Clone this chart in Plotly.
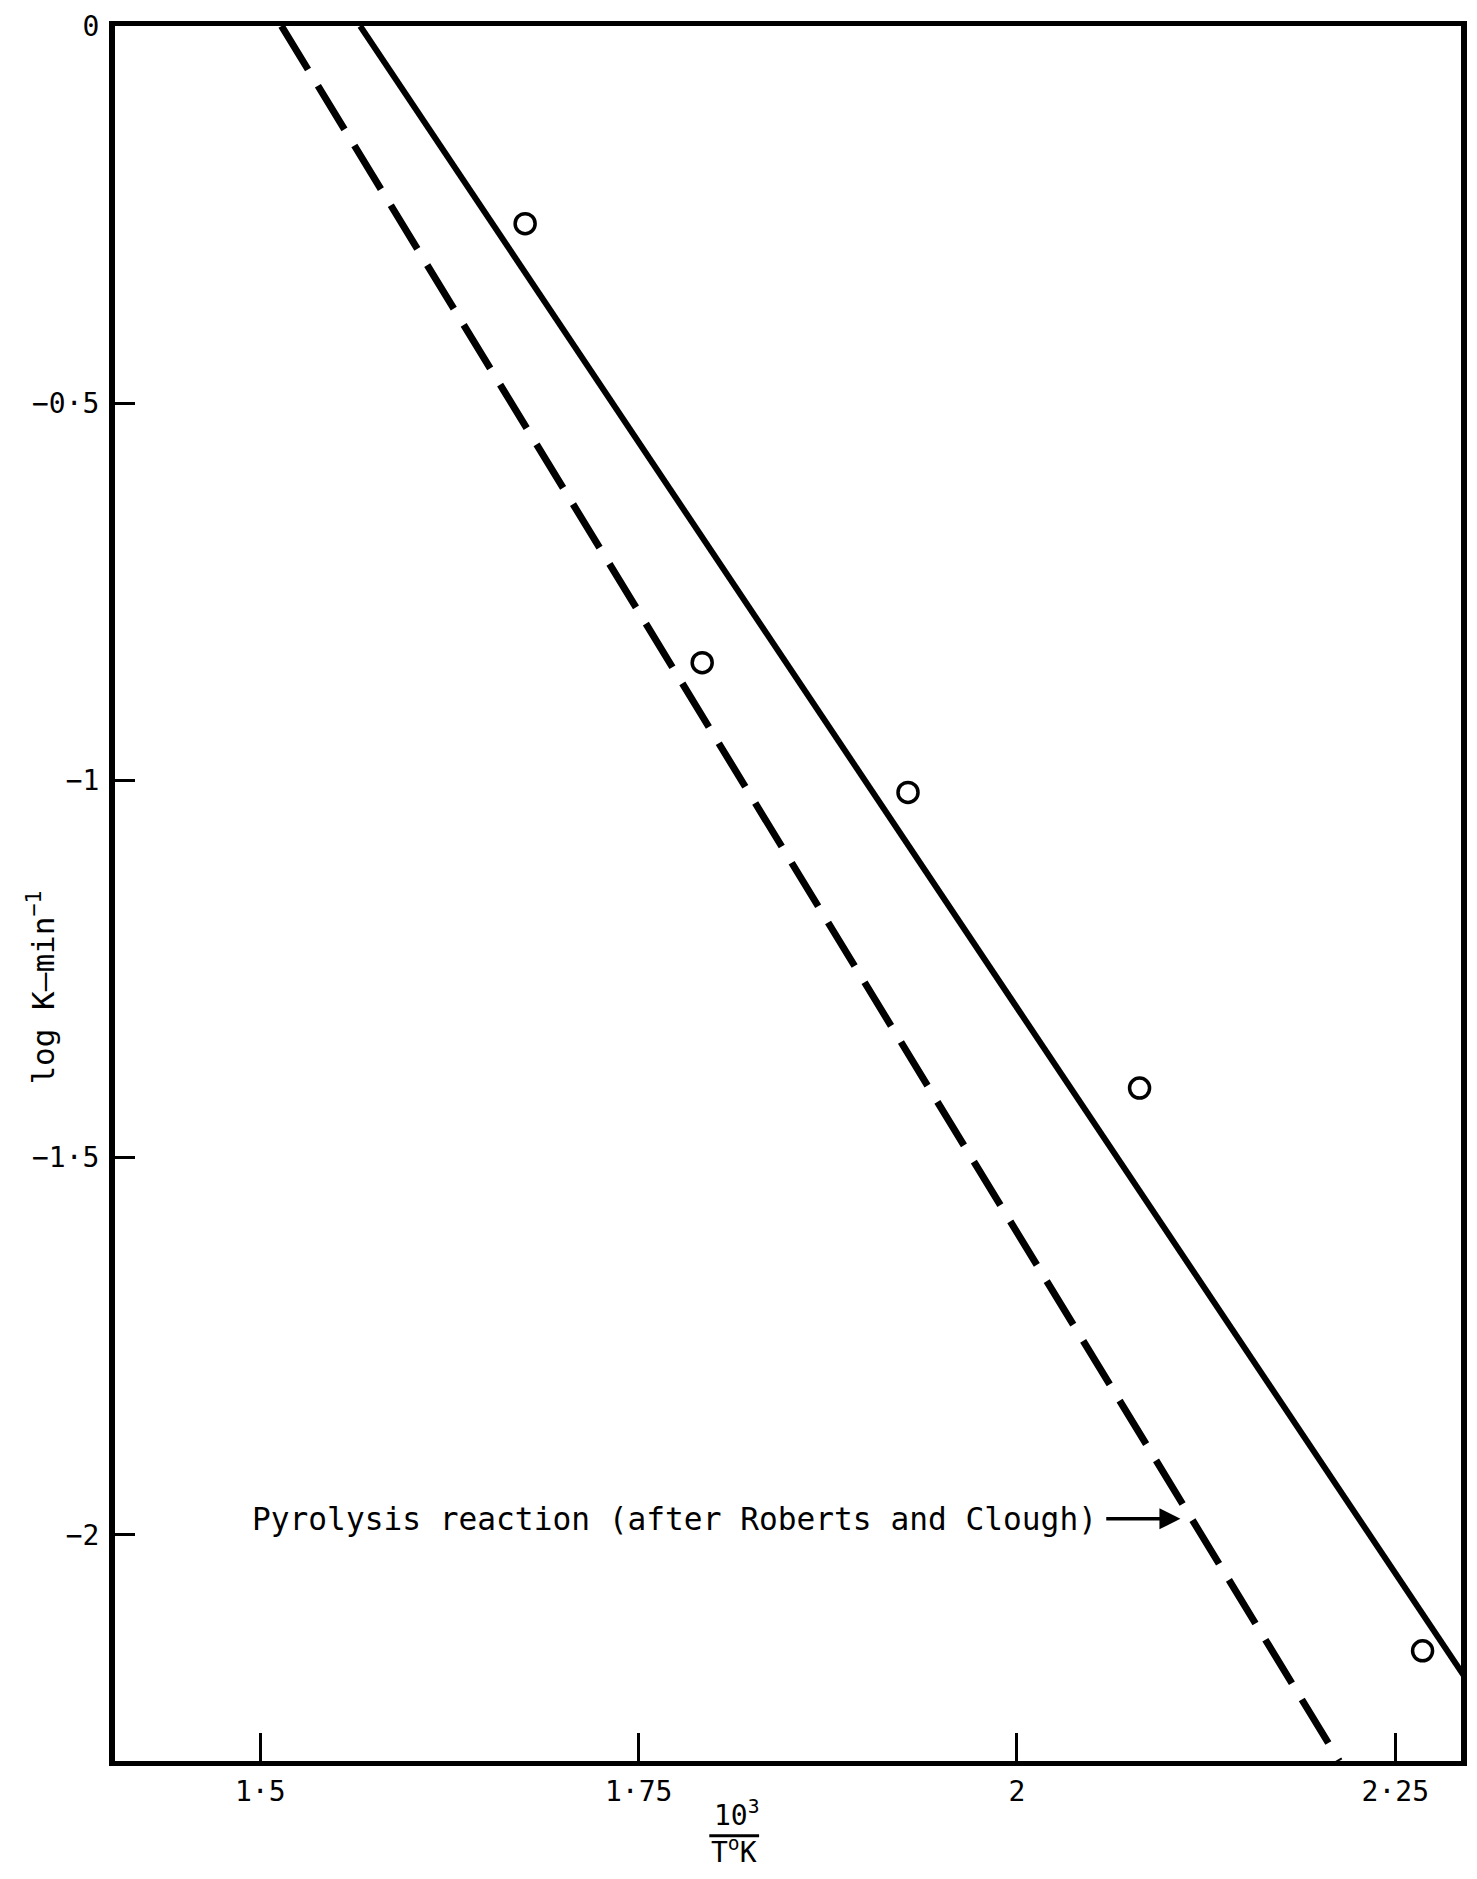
import plotly.graph_objects as go

# ---- data ----
pts_x = [1.675, 1.792, 1.928, 2.081, 2.268]
pts_y = [-0.262, -0.844, -1.016, -1.408, -2.154]

fit_x = [1.566, 1.776, 1.974, 2.129, 2.297]
fit_y = [0.0, -0.630, -1.224, -1.687, -2.192]

pyro_x = [1.514, 2.213]
pyro_y = [0.0, -2.300]

x_tickvals = [1.5, 1.75, 2.0, 2.25]
x_ticktext = ["1·5", "1·75", "2", "2·25"]
y_tickvals = [0, -0.5, -1, -1.5, -2]
y_ticktext = ["0", "−0·5", "−1", "−1·5", "−2"]

label_text = "Pyrolysis reaction (after Roberts and Clough)"

FONT = "DejaVu Sans Mono"

fig = go.Figure()

fig.add_trace(go.Scatter(
    x=pyro_x, y=pyro_y, mode="lines",
    line=dict(color="black", width=7, dash="51px,19px"),
    showlegend=False, hoverinfo="skip"))

fig.add_trace(go.Scatter(
    x=fit_x, y=fit_y, mode="lines",
    line=dict(color="black", width=6),
    showlegend=False, hoverinfo="skip"))

fig.add_trace(go.Scatter(
    x=pts_x, y=pts_y, mode="markers",
    marker=dict(symbol="circle-open", size=20, color="black",
                line=dict(width=3.5, color="black")),
    showlegend=False))

# annotation text + arrow to the dashed line
fig.add_annotation(x=2.0545, y=-1.979, xref="x", yref="y", text=label_text,
                   showarrow=False, xanchor="right", yanchor="middle",
                   font=dict(family=FONT, size=31.2, color="black"))
fig.add_annotation(x=2.108, y=-1.979, ax=2.058, ay=-1.979,
                   xref="x", yref="y", axref="x", ayref="y", text="",
                   showarrow=True, arrowhead=2, arrowsize=1.2, arrowwidth=3.5,
                   arrowcolor="black")

# y-axis title
fig.add_annotation(x=-0.0547, y=0.446, xref="paper", yref="paper",
                   text="log K—min<sup>−1</sup>", textangle=-90,
                   showarrow=False, xanchor="center", yanchor="middle",
                   font=dict(family=FONT, size=31, color="black"))

# x-axis title as a fraction 10^3 / T°K
fig.add_annotation(x=1.815, y=-0.0305, xref="x", yref="paper",
                   text="10<sup>3</sup>", showarrow=False,
                   xanchor="center", yanchor="middle",
                   font=dict(family=FONT, size=28, color="black"))
fig.add_annotation(x=1.813, y=-0.0517, xref="x", yref="paper",
                   text="T<sup>o</sup>K", showarrow=False,
                   xanchor="center", yanchor="middle",
                   font=dict(family=FONT, size=28, color="black"))
fig.add_shape(type="line", xref="x", yref="paper",
              x0=1.7967, x1=1.8296, y0=-0.0431, y1=-0.0431,
              line=dict(color="black", width=3))

fig.update_layout(
    width=1461, height=1863,
    margin=dict(l=107, r=2, t=13, b=110),
    paper_bgcolor="white", plot_bgcolor="white",
    font=dict(family=FONT, color="black"),
    xaxis=dict(range=[1.404, 2.2934], tickvals=x_tickvals, ticktext=x_ticktext,
               ticks="inside", ticklen=28, tickwidth=3, tickcolor="black",
               showline=True, linewidth=5, linecolor="black", mirror=True,
               showgrid=False, zeroline=False, ticklabelstandoff=1,
               ticklabeloverflow="allow",
               tickfont=dict(family=FONT, size=28, color="black")),
    yaxis=dict(range=[-2.3, 0], tickvals=y_tickvals, ticktext=y_ticktext,
               ticks="inside", ticklen=20, tickwidth=3, tickcolor="black",
               showline=True, linewidth=6, linecolor="black", mirror=True,
               showgrid=False, zeroline=False, ticklabelstandoff=4,
               ticklabeloverflow="allow",
               tickfont=dict(family=FONT, size=28, color="black")),
)

fig.write_html("out.html")
